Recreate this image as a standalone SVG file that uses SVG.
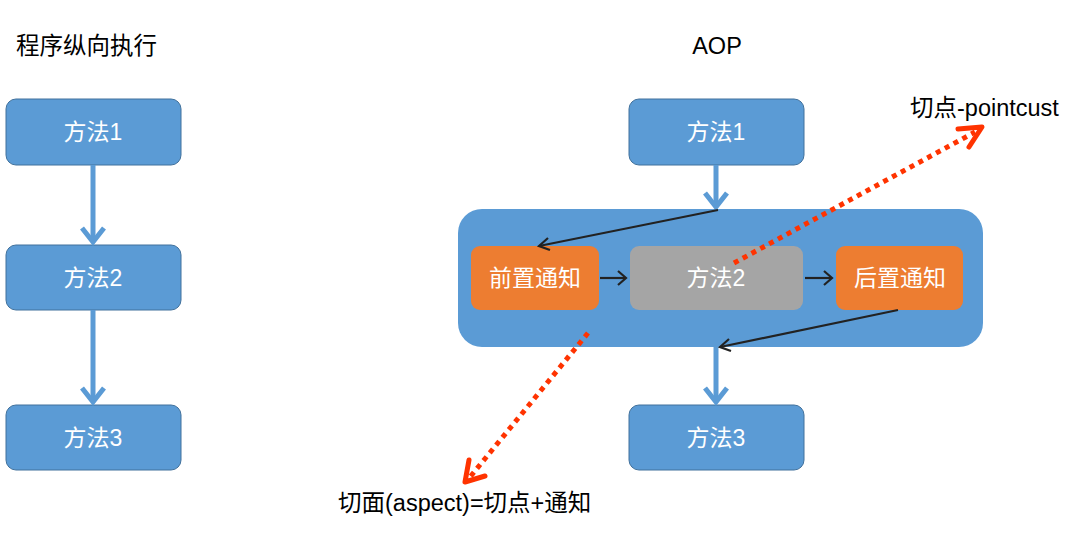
<svg xmlns="http://www.w3.org/2000/svg" width="1075" height="550" viewBox="0 0 1075 550">
<defs>
<style>
text{font-family:"Liberation Sans","Noto Sans CJK SC",sans-serif;font-size:23.5px}
.t{fill:#000}
.w{fill:#fff;text-anchor:middle;font-size:23px}
.box{fill:#5B9BD5;stroke:#41719C;stroke-width:1}
.or{fill:#ED7D31}
.gr{fill:#A5A5A5}
.blue{stroke:#5B9BD5;stroke-width:5;fill:none}
.blk{stroke:#222;stroke-width:2.2;fill:none}
.red{stroke:#FF3300;stroke-width:5;fill:none;stroke-dasharray:5 5}
.redh{stroke:#FF3300;stroke-width:5;fill:none;stroke-linecap:round;stroke-linejoin:round}
</style>
</defs>
<rect width="1075" height="550" fill="#fff"/>
<text class="t" x="16" y="54">程序纵向执行</text>
<text class="t" x="717" y="54" text-anchor="middle">AOP</text>
<g id="container"><rect x="458" y="209" width="525" height="138" rx="24" fill="#5B9BD5"/></g>
<g id="l1"><rect class="box" x="6" y="99" width="175" height="66" rx="10"/><text class="w" x="93" y="140">方法1</text></g>
<g id="l2"><rect class="box" x="6" y="245" width="175" height="65" rx="10"/><text class="w" x="93" y="286">方法2</text></g>
<g id="l3"><rect class="box" x="6" y="405" width="175" height="65" rx="10"/><text class="w" x="93" y="446">方法3</text></g>
<g id="r1"><rect class="box" x="629" y="99" width="175" height="66" rx="10"/><text class="w" x="716" y="140">方法1</text></g>
<g id="r3"><rect class="box" x="629" y="405" width="175" height="65" rx="10"/><text class="w" x="716" y="446">方法3</text></g>
<g id="before"><rect class="or" x="471" y="246" width="128" height="64" rx="9"/><text class="w" x="535" y="286">前置通知</text></g>
<g id="m2"><rect class="gr" x="630" y="246" width="173" height="64" rx="9"/><text class="w" x="716" y="286">方法2</text></g>
<g id="after"><rect class="or" x="836" y="246" width="127" height="64" rx="9"/><text class="w" x="900" y="286">后置通知</text></g>
<g id="connectors">
<line class="blue" x1="93" y1="165" x2="93" y2="242"/><polyline class="blue" points="82,228 93,242 104,228"/>
<line class="blue" x1="93" y1="310" x2="93" y2="402"/><polyline class="blue" points="82,388 93,402 104,388"/>
<line class="blue" x1="716" y1="165" x2="716" y2="207"/><polyline class="blue" points="705,193 716,207 727,193"/>
<line class="blue" x1="716" y1="347" x2="716" y2="402"/><polyline class="blue" points="705,388 716,402 727,388"/>
<line class="blk" x1="718" y1="210" x2="539" y2="246"/><polyline class="blk" points="548,238 539,246 550,250"/>
<line class="blk" x1="600" y1="278" x2="625" y2="278"/><polyline class="blk" points="618,271 626,278 618,285" stroke-width="3"/>
<line class="blk" x1="805" y1="278" x2="831" y2="278"/><polyline class="blk" points="824,271 832,278 824,285" stroke-width="3"/>
<line class="blk" x1="898" y1="310" x2="720" y2="347"/><polyline class="blk" points="729,339 720,347 731,351"/>
<line class="red" x1="734" y1="263" x2="975" y2="132"/><polyline class="redh" points="958,129 982,127 969,147"/>
<line class="red" x1="588" y1="333" x2="470" y2="477"/><polyline class="redh" points="469,460 465,482 485,476"/>
</g>
<text class="t" x="910" y="116">切点-pointcust</text>
<text class="t" x="338" y="511">切面(aspect)=切点+通知</text>
</svg>
